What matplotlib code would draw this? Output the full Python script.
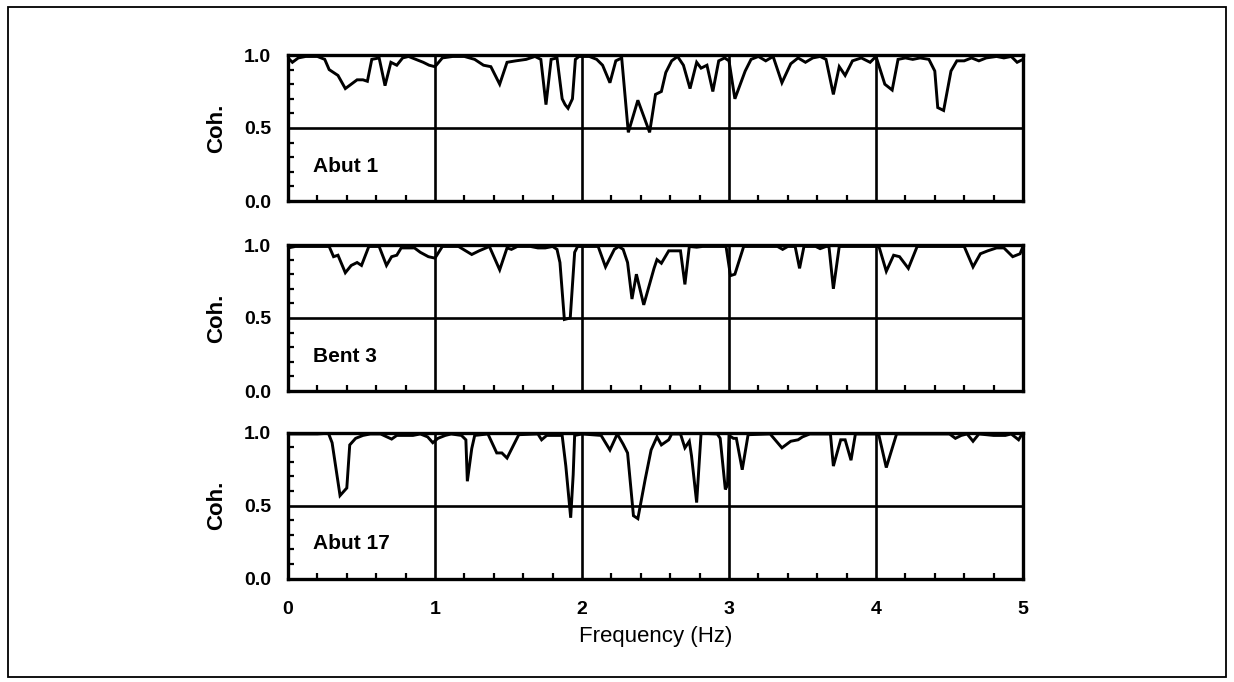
import matplotlib
matplotlib.use("Agg")
import matplotlib.pyplot as plt
from matplotlib.patches import Rectangle
from matplotlib.ticker import MultipleLocator, FixedLocator

plt.rcParams['font.family'] = ['Liberation Sans', 'DejaVu Sans']

# Coherence vs frequency at three support locations
abut1_f = [0.0, 0.03, 0.07, 0.12, 0.2, 0.25, 0.28, 0.31, 0.34, 0.39, 0.43, 0.47, 0.51,
           0.54, 0.57, 0.62, 0.66, 0.70, 0.74, 0.78, 0.82, 0.87, 0.92, 0.96, 1.0,
           1.05, 1.12, 1.2, 1.27, 1.33, 1.38, 1.44, 1.49, 1.55, 1.62, 1.68, 1.72, 1.755,
           1.79, 1.83, 1.865, 1.885, 1.905, 1.935, 1.955, 1.98, 2.0,
           2.05, 2.1, 2.14, 2.19, 2.23, 2.27, 2.315, 2.38, 2.46, 2.50, 2.54, 2.57, 2.61,
           2.65, 2.69, 2.735, 2.78, 2.81, 2.85, 2.89, 2.93, 2.97, 3.0,
           3.04, 3.11, 3.15, 3.2, 3.25, 3.3, 3.36, 3.42, 3.47, 3.52, 3.57, 3.62, 3.66,
           3.71, 3.75, 3.79, 3.84, 3.9, 3.96, 4.0,
           4.06, 4.11, 4.15, 4.2, 4.25, 4.3, 4.36, 4.40, 4.42, 4.46, 4.51, 4.55, 4.6,
           4.65, 4.7, 4.75, 4.82, 4.87, 4.92, 4.96, 5.0]
abut1_c = [0.98, 0.95, 0.98, 0.99, 0.99, 0.97, 0.90, 0.88, 0.86, 0.77, 0.80, 0.83, 0.83,
           0.82, 0.97, 0.98, 0.79, 0.95, 0.93, 0.98, 0.99, 0.97, 0.95, 0.93, 0.92,
           0.98, 0.99, 0.99, 0.97, 0.93, 0.92, 0.80, 0.95, 0.96, 0.97, 0.99, 0.97, 0.66,
           0.97, 0.98, 0.70, 0.66, 0.635, 0.70, 0.97, 0.99, 0.99,
           0.99, 0.97, 0.93, 0.81, 0.96, 0.98, 0.47, 0.69, 0.47, 0.73, 0.75, 0.88, 0.96,
           0.99, 0.93, 0.77, 0.95, 0.91, 0.93, 0.75, 0.96, 0.98, 0.96,
           0.70, 0.89, 0.97, 0.99, 0.96, 0.99, 0.81, 0.94, 0.98, 0.95, 0.98, 0.99, 0.97,
           0.73, 0.92, 0.86, 0.96, 0.98, 0.95, 0.99,
           0.80, 0.76, 0.97, 0.98, 0.97, 0.98, 0.97, 0.89, 0.64, 0.62, 0.89, 0.96, 0.96,
           0.98, 0.96, 0.98, 0.99, 0.98, 0.99, 0.95, 0.97]

bent3_f = [0.0, 0.05, 0.12, 0.2, 0.28, 0.31, 0.34, 0.39, 0.43, 0.47, 0.50, 0.55, 0.62,
           0.67, 0.705, 0.74, 0.77, 0.86, 0.90, 0.955, 1.0,
           1.05, 1.16, 1.25, 1.30, 1.37, 1.44, 1.49, 1.52, 1.56, 1.65, 1.7, 1.75, 1.8,
           1.83, 1.85, 1.88, 1.92, 1.95, 1.97, 2.0,
           2.11, 2.16, 2.22, 2.25, 2.28, 2.31, 2.34, 2.37, 2.42, 2.49, 2.51, 2.54, 2.59,
           2.67, 2.70, 2.73, 2.78, 2.82, 2.98, 3.01,
           3.04, 3.10, 3.33, 3.365, 3.40, 3.45, 3.48, 3.51, 3.59, 3.62, 3.66, 3.68, 3.71,
           3.75, 4.0,
           4.02, 4.07, 4.12, 4.16, 4.22, 4.28, 4.4, 4.5, 4.6, 4.66, 4.71, 4.76, 4.82,
           4.87, 4.93, 4.98, 5.0]
bent3_c = [0.98, 0.99, 0.99, 0.99, 0.99, 0.92, 0.93, 0.81, 0.86, 0.88, 0.86, 0.99, 0.99,
           0.86, 0.92, 0.93, 0.98, 0.98, 0.95, 0.92, 0.91,
           0.99, 0.99, 0.935, 0.96, 0.99, 0.83, 0.98, 0.97, 0.99, 0.99, 0.98, 0.98, 0.99,
           0.97, 0.88, 0.49, 0.50, 0.95, 0.99, 0.99,
           0.99, 0.85, 0.97, 0.99, 0.97, 0.88, 0.63, 0.80, 0.59, 0.84, 0.90, 0.875, 0.96,
           0.96, 0.73, 0.99, 0.985, 0.99, 0.99, 0.79,
           0.80, 0.99, 0.99, 0.97, 0.99, 0.99, 0.84, 0.99, 0.99, 0.975, 0.99, 0.99, 0.70,
           0.99, 0.99,
           0.99, 0.82, 0.93, 0.92, 0.84, 0.99, 0.99, 0.99, 0.99, 0.85, 0.94, 0.96, 0.98,
           0.98, 0.92, 0.94, 0.99]

abut17_f = [0.0, 0.1, 0.2, 0.275, 0.30, 0.354, 0.40, 0.42, 0.46, 0.51, 0.56, 0.63, 0.705,
            0.74, 0.8, 0.85, 0.9, 0.95, 0.985, 1.02, 1.07, 1.11, 1.18, 1.21, 1.22, 1.25,
            1.27, 1.36, 1.42, 1.455, 1.49, 1.57, 1.70, 1.725, 1.76, 1.865, 1.89, 1.923,
            1.94, 1.95, 2.0,
            2.13, 2.19, 2.24, 2.28, 2.31, 2.35, 2.38, 2.43, 2.47, 2.51, 2.54, 2.59, 2.61,
            2.67, 2.70, 2.73, 2.745, 2.78, 2.81, 2.92, 2.94, 2.975, 2.99, 3.0,
            3.03, 3.05, 3.09, 3.13, 3.28, 3.36, 3.42, 3.47, 3.5, 3.55, 3.69, 3.71, 3.76,
            3.79, 3.83, 3.86, 4.0,
            4.02, 4.07, 4.14, 4.5, 4.54, 4.58, 4.62, 4.66, 4.7, 4.8, 4.88, 4.92, 4.97, 5.0]
abut17_c = [0.99, 0.99, 0.99, 0.995, 0.93, 0.568, 0.62, 0.915, 0.96, 0.98, 0.99, 0.99, 0.955,
            0.98, 0.98, 0.98, 0.99, 0.97, 0.93, 0.96, 0.98, 0.99, 0.98, 0.95, 0.666, 0.89,
            0.98, 0.99, 0.86, 0.86, 0.825, 0.985, 0.99, 0.95, 0.98, 0.98, 0.77, 0.416,
            0.71, 0.98, 0.99,
            0.98, 0.88, 0.99, 0.92, 0.86, 0.43, 0.41, 0.68, 0.88, 0.97, 0.915, 0.95, 0.99,
            0.99, 0.895, 0.94, 0.84, 0.52, 0.995, 0.99, 0.96, 0.61, 0.64, 0.98,
            0.96, 0.96, 0.745, 0.985, 0.99, 0.895, 0.94, 0.95, 0.97, 0.99, 0.99, 0.77, 0.95,
            0.95, 0.81, 0.99, 0.99,
            0.98, 0.76, 0.99, 0.99, 0.96, 0.98, 0.99, 0.94, 0.99, 0.98, 0.98, 0.99, 0.95, 1.0]

panels = [("Abut 1", abut1_f, abut1_c),
          ("Bent 3", bent3_f, bent3_c),
          ("Abut 17", abut17_f, abut17_c)]

x_major = [0, 1, 2, 3, 4, 5]
y_labels = [0.0, 0.5, 1.0]

W, H = 1234, 682
fig = plt.figure(figsize=(W / 100, H / 100), dpi=100)
fig.patch.set_facecolor('white')

# outer border around the whole figure
fig.patches.append(Rectangle((8 / W, 5 / H), (W - 16) / W, (H - 12) / H,
                             transform=fig.transFigure, fill=False,
                             edgecolor='black', linewidth=1.3))

left_px, right_px = 288, 1023
tops_px = [55, 245, 432.5]
height_px = 146

for i, (name, f, c) in enumerate(panels):
    top = tops_px[i]
    ax = fig.add_axes([left_px / W, (H - top - height_px) / H,
                       (right_px - left_px) / W, height_px / H])
    ax.plot(f, c, color='black', linewidth=2.1, solid_joinstyle='miter', zorder=3)
    for xv in x_major[1:-1]:
        ax.axvline(xv, color='black', linewidth=1.9, zorder=2)
    ax.axhline(0.5, color='black', linewidth=1.9, zorder=2)

    ax.set_xlim(0, 5)
    ax.set_ylim(0, 1.0)
    for s in ax.spines.values():
        s.set_linewidth(2.4)

    ax.xaxis.set_major_locator(FixedLocator(x_major))
    ax.xaxis.set_minor_locator(MultipleLocator(0.2))
    ax.yaxis.set_major_locator(FixedLocator(y_labels))
    ax.yaxis.set_minor_locator(MultipleLocator(0.1))
    ax.tick_params(axis='both', which='both', direction='in', top=False, right=False,
                   width=1.6)
    ax.tick_params(axis='both', which='major', length=0, pad=12)
    ax.tick_params(axis='both', which='minor', length=4.5)
    ax.set_yticklabels(['0.0', '0.5', '1.0'], fontsize=14, fontweight='bold')
    if i == 2:
        ax.set_xticklabels([str(v) for v in x_major], fontsize=14, fontweight='bold')
        ax.tick_params(axis='x', which='major', pad=16)
        ax.set_xlabel('Frequency (Hz)', fontsize=16, labelpad=6)
    else:
        ax.set_xticklabels([])
    ax.set_ylabel('Coh.', fontsize=16, fontweight='bold', labelpad=12)
    ax.text(0.17, 0.2, name, fontsize=15, fontweight='bold', ha='left',
            va='baseline', zorder=4)

fig.savefig('out.png', dpi=100, facecolor='white')
